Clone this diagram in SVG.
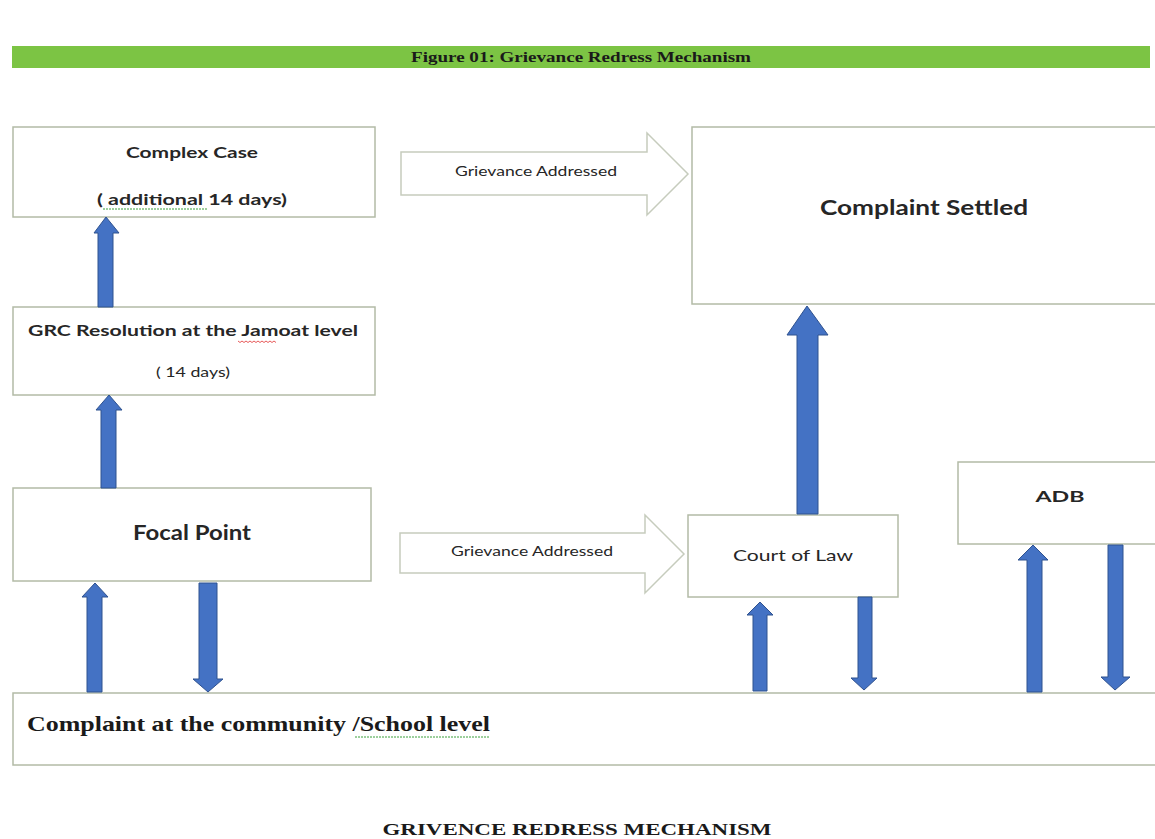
<svg xmlns="http://www.w3.org/2000/svg" width="1155" height="839" viewBox="0 0 1155 839">
<style>
.box{fill:#ffffff;stroke:#b3bba6;stroke-width:1.5}
.hollow{fill:#ffffff;stroke:#c6ccbd;stroke-width:1.5}
.blue{fill:#4472c4;stroke:#2f528f;stroke-width:1}
.sans{font-family:Lato,"Liberation Sans",sans-serif;fill:#262626;font-weight:bold}
.serif{font-family:"Liberation Serif",serif;fill:#1a1a1a;font-weight:bold}
.reg{font-weight:normal}
</style>
<rect width="1155" height="839" fill="#ffffff"/>
<g id="banner">
<rect x="12" y="46" width="1138" height="22" fill="#7cc444"/>
<text class="serif" x="581" y="62" font-size="14" text-anchor="middle" textLength="340" lengthAdjust="spacingAndGlyphs" fill="#102000">Figure 01: Grievance  Redress Mechanism</text>
</g>
<g id="complex-case">
<rect class="box" x="13" y="127" width="362" height="90"/>
<text class="sans" x="192" y="158" font-size="15" text-anchor="middle" textLength="132" lengthAdjust="spacingAndGlyphs">Complex Case</text>
<text class="sans" x="192" y="205" font-size="15" text-anchor="middle" textLength="190" lengthAdjust="spacingAndGlyphs">( additional 14 days)</text>
<line x1="103" y1="209" x2="208" y2="209" stroke="#3aa03a" stroke-width="1" stroke-dasharray="2,1"/>
</g>
<g id="grc">
<rect class="box" x="13" y="307" width="362" height="88"/>
<text class="sans" x="193" y="336" font-size="15" text-anchor="middle" textLength="330" lengthAdjust="spacingAndGlyphs">GRC Resolution at the Jamoat level</text>
<path d="M238,341 l2,1.5 l2,-1.5 l2,1.5 l2,-1.5 l2,1.5 l2,-1.5 l2,1.5 l2,-1.5 l2,1.5 l2,-1.5 l2,1.5 l2,-1.5 l2,1.5 l2,-1.5 l2,1.5 l2,-1.5 l2,1.5 l2,-1.5 l2,1.5" fill="none" stroke="#e03030" stroke-width="0.8"/>
<text class="sans reg" x="193" y="377" font-size="13" text-anchor="middle" textLength="74" lengthAdjust="spacingAndGlyphs">( 14 days)</text>
</g>
<g id="focal-point">
<rect class="box" x="13" y="488" width="358" height="93"/>
<text class="sans" x="192" y="540" font-size="21" text-anchor="middle" textLength="118" lengthAdjust="spacingAndGlyphs">Focal Point</text>
</g>
<g id="complaint-settled">
<rect class="box" x="692" y="127" width="470" height="177"/>
<text class="sans" x="924" y="215" font-size="20" text-anchor="middle" textLength="208" lengthAdjust="spacingAndGlyphs">Complaint Settled</text>
</g>
<g id="court-of-law">
<rect class="box" x="688" y="515" width="210" height="82"/>
<text class="sans reg" x="793" y="561" font-size="16" text-anchor="middle" textLength="120" lengthAdjust="spacingAndGlyphs">Court of Law</text>
</g>
<g id="adb">
<rect class="box" x="958" y="462" width="204" height="82"/>
<text class="sans" x="1060" y="502" font-size="16" text-anchor="middle" textLength="49" lengthAdjust="spacingAndGlyphs">ADB</text>
</g>
<g id="community">
<rect class="box" x="13" y="693" width="1150" height="72"/>
<text class="serif" x="27" y="731" font-size="21" textLength="463" lengthAdjust="spacingAndGlyphs">Complaint at the community /School  level</text>
<line x1="355" y1="737" x2="490" y2="737" stroke="#3aa03a" stroke-width="1" stroke-dasharray="2,1"/>
</g>
<g id="connectors">
<polygon class="hollow" points="401,152 647,152 647,133 688,174 647,215 647,195 401,195"/>
<text class="sans reg" x="536" y="176" font-size="13" text-anchor="middle" textLength="162" lengthAdjust="spacingAndGlyphs">Grievance Addressed</text>
<polygon class="hollow" points="400,533 645,533 645,515 684,554 645,593 645,573 400,573"/>
<text class="sans reg" x="532" y="556" font-size="13" text-anchor="middle" textLength="162" lengthAdjust="spacingAndGlyphs">Grievance Addressed</text>
<polygon class="blue" points="98,307 98,233 94,233 106,217 119,233 113,233 113,307"/>
<polygon class="blue" points="101,488 101,410 96,410 109,395 122,410 116,410 116,488"/>
<polygon class="blue" points="87,692 87,597 82,597 95,583 108,597 102,597 102,692"/>
<polygon class="blue" points="199,583 217,583 217,679 223,679 208,692 193,679 199,679"/>
<polygon class="blue" points="797,514 797,335 787,335 807,306 828,335 818,335 818,514"/>
<polygon class="blue" points="753,691 753,615 747,615 760,602 773,615 767,615 767,691"/>
<polygon class="blue" points="858,597 872,597 872,678 877,678 864,690 851,678 858,678"/>
<polygon class="blue" points="1027,692 1027,560 1018,560 1033,545 1048,560 1042,560 1042,692"/>
<polygon class="blue" points="1108,545 1123,545 1123,677 1130,677 1115,690 1101,677 1108,677"/>
</g>
<g id="caption">
<text class="serif" x="577" y="835" font-size="16" text-anchor="middle" textLength="389" lengthAdjust="spacingAndGlyphs">GRIVENCE REDRESS MECHANISM</text>
</g>
</svg>
